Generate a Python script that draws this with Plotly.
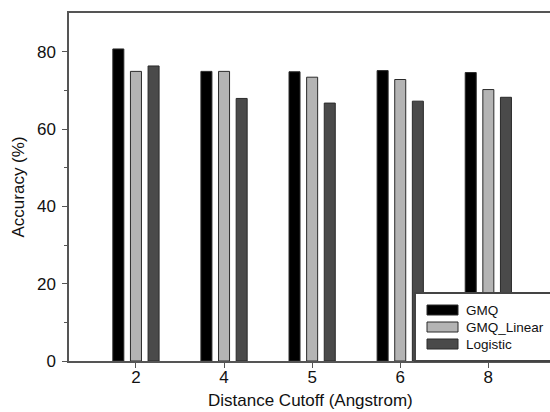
import plotly.graph_objects as go

categories = ["2", "4", "5", "6", "8"]
series_names = ["GMQ", "GMQ_Linear", "Logistic"]
gmq = [80.7, 74.9, 74.8, 75.1, 74.6]
gmq_linear = [74.9, 74.9, 73.4, 72.8, 70.2]
logistic = [76.3, 67.9, 66.7, 67.2, 68.2]
colors = ["#000000", "#b4b4b4", "#4a4a4a"]
x_title = "Distance Cutoff (Angstrom)"
y_title = "Accuracy (%)"

FONT = "Arial, Liberation Sans, sans-serif"

fig = go.Figure()
for name, vals, col in zip(series_names, [gmq, gmq_linear, logistic], colors):
    fig.add_trace(go.Bar(
        x=categories, y=vals, name=name,
        marker=dict(color=col, line=dict(color="#2a2a2a", width=1)),
        showlegend=False,
    ))

# plot area in pixels: x 69..550, y 13..361
L, R, T, B = 69, 550, 13, 361
def px(xp):
    return (xp - L) / (R - L)
def py(yp):
    return (B - yp) / (B - T)

shapes = []
annotations = []
# legend box
shapes.append(dict(type="rect", xref="paper", yref="paper",
                   x0=px(415), x1=px(560), y0=py(361), y1=py(293),
                   line=dict(color="#444444", width=2), fillcolor="white", layer="above"))
rows = [310, 327, 344]
for name, col, r in zip(series_names, colors, rows):
    shapes.append(dict(type="rect", xref="paper", yref="paper",
                       x0=px(427), x1=px(458), y0=py(r + 5), y1=py(r - 5),
                       line=dict(color="#2a2a2a", width=1), fillcolor=col, layer="above"))
    annotations.append(dict(xref="paper", yref="paper", x=px(464), y=py(r),
                            xanchor="left", yanchor="middle", showarrow=False,
                            text=name, font=dict(family=FONT, size=13.5, color="#111111")))

# x axis title
annotations.append(dict(xref="paper", yref="paper", x=px(310), y=py(400),
                        xanchor="center", yanchor="middle", showarrow=False,
                        text=x_title, font=dict(family=FONT, size=17, color="#111111")))

fig.update_layout(
    width=550, height=412,
    margin=dict(l=L, r=550 - R, t=T, b=412 - B),
    paper_bgcolor="white", plot_bgcolor="white",
    barmode="group", bargap=0.4, bargroupgap=0.375,
    font=dict(family=FONT, size=16, color="#111111"),
    shapes=shapes, annotations=annotations,
    xaxis=dict(
        type="category", range=[-0.76, 4.70],
        showline=True, linecolor="#555555", linewidth=1.5, mirror=True,
        ticks="outside", ticklen=5, tickcolor="#555555",
        showgrid=False, zeroline=False,
        tickfont=dict(family=FONT, size=17),
        ticklabelstandoff=-5,
    ),
    yaxis=dict(
        range=[0, 90], tickvals=[0, 20, 40, 60, 80],
        showline=True, linecolor="#555555", linewidth=1.5, mirror=False,
        ticks="outside", ticklen=5, tickcolor="#555555",
        minor=dict(tickvals=[10, 30, 50, 70], ticks="outside", ticklen=3, tickcolor="#555555"),
        showgrid=False, zeroline=False,
        tickfont=dict(family=FONT, size=17),
        ticklabelstandoff=3,
        title=dict(text=y_title, font=dict(family=FONT, size=17), standoff=8),
    ),
)

fig.write_html("out.html")
